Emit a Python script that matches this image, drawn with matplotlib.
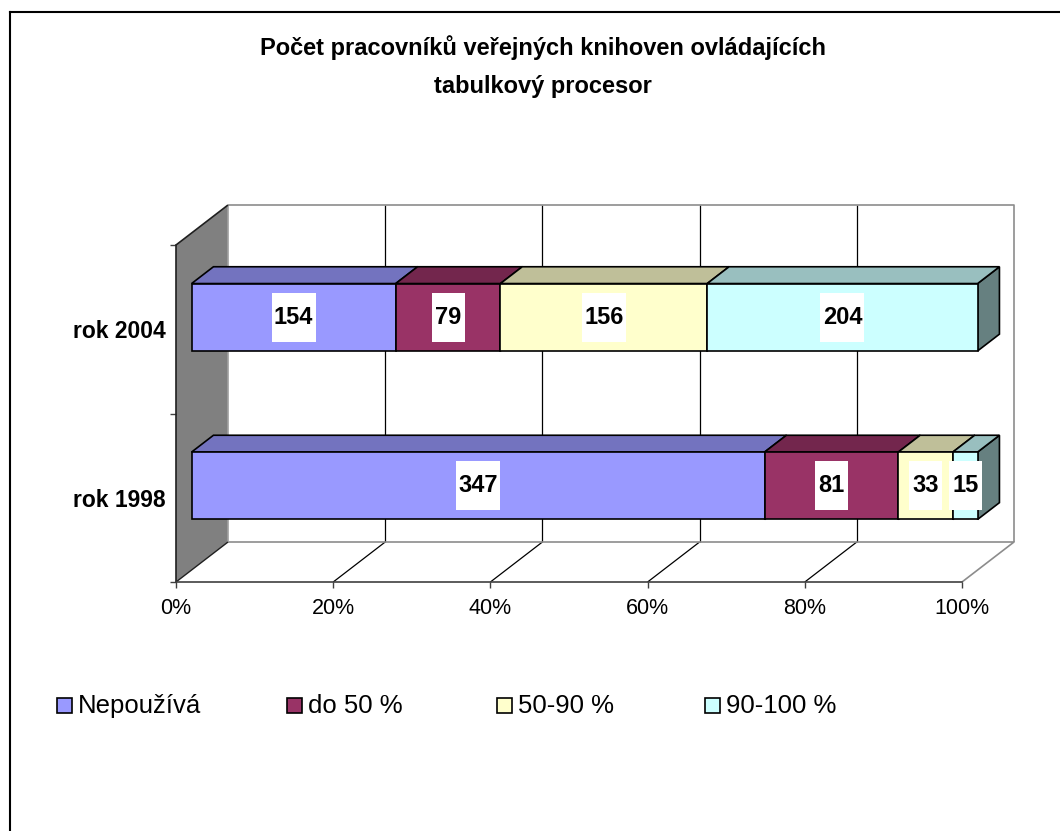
import matplotlib
matplotlib.use("Agg")
import matplotlib.pyplot as plt
import matplotlib.transforms as mtransforms
from matplotlib.patches import Polygon, Rectangle
import numpy as np

plt.rcParams['font.family'] = ['Liberation Sans', 'DejaVu Sans']

# ---- data ----
categories = ["rok 1998", "rok 2004"]
series_names = ["Nepoužívá", "do 50 %", "50-90 %", "90-100 %"]
v_nepouziva = [347, 154]
v_do50 = [81, 79]
v_50_90 = [33, 156]
v_90_100 = [15, 204]
xtick_labels = ["0%", "20%", "40%", "60%", "80%", "100%"]
title_lines = ["Počet pracovníků veřejných knihoven ovládajících", "tabulkový procesor"]

front_colors = ["#9999FF", "#993366", "#FFFFCC", "#CCFFFF"]

def shade(hexcol, f):
    c = np.array(matplotlib.colors.to_rgb(hexcol)) * f
    return tuple(c)

# ---- figure / layout ----
W, H = 1060, 831
fig = plt.figure(figsize=(W / 100, H / 100), dpi=100)
fig.patch.set_facecolor("white")

# front plane in pixels
X0, X1 = 176, 962
YB, YT = 582, 245
ax = fig.add_axes([X0 / W, (H - YB) / H, (X1 - X0) / W, (YB - YT) / H])
ax.set_xlim(0, 1)
ax.set_ylim(0, 2)
ax.set_facecolor("none")

# depth vector (pixels for full depth) -> data units
DPX, DPY = 52, 40
ddx = DPX / (X1 - X0)
ddy = DPY / ((YB - YT) / 2)

def P(x, y, d):
    return (x + d * ddx, y + d * ddy)

# ---- walls ----
ax.add_patch(Polygon([P(0, 0, 1), P(1, 0, 1), P(1, 2, 1), P(0, 2, 1)], closed=True,
                     facecolor="white", edgecolor="none", clip_on=False, zorder=1))
ax.add_patch(Polygon([P(0, 0, 0), P(1, 0, 0), P(1, 0, 1), P(0, 0, 1)], closed=True,
                     facecolor="white", edgecolor="none", clip_on=False, zorder=1))
ax.add_patch(Polygon([P(0, 0, 0), P(0, 2, 0), P(0, 2, 1), P(0, 0, 1)], closed=True,
                     facecolor="#808080", edgecolor="none", clip_on=False, zorder=1))

def line(pts, color, lw=1.0, z=2):
    xs, ys = zip(*pts)
    ax.plot(xs, ys, color=color, lw=lw, clip_on=False, zorder=z, solid_capstyle="butt")

grid_vals = [0.2, 0.4, 0.6, 0.8]
for g in grid_vals:
    line([P(g, 0, 1), P(g, 2, 1)], "black", 0.9)
    line([P(g, 0, 0), P(g, 0, 1)], "black", 0.9)
line([P(0, 2, 1), P(1, 2, 1), P(1, 0, 1)], "#8c8c8c", 1.2)
line([P(0, 0, 1), P(1, 0, 1), P(1, 0, 0)], "#8c8c8c", 1.2)
line([P(0, 0, 1), P(0, 2, 1)], "#a0a0a0", 1.2)
line([P(0, 2, 0), P(0, 2, 1)], "#202020", 1.2)
line([P(0, 0, 0), P(0, 0, 1)], "#202020", 1.0)

# ---- bars ----
series = [v_nepouziva, v_do50, v_50_90, v_90_100]
vals = np.array(series, dtype=float)
totals = vals.sum(axis=0)
fracs = vals / totals
cum = np.vstack([np.zeros(len(categories)), np.cumsum(fracs, axis=0)])

bar_h = 0.4
d0, d1 = 0.3, 0.72
ycats = np.arange(len(categories)) + 0.5

fig.canvas.draw()
for ci, yc in enumerate(ycats):
    y0, y1 = yc - bar_h / 2, yc + bar_h / 2
    for si in range(len(series)):
        xa, xb = cum[si, ci], cum[si + 1, ci]
        fc = front_colors[si]
        ax.add_patch(Polygon([P(xb, y0, d0), P(xb, y1, d0), P(xb, y1, d1), P(xb, y0, d1)],
                             closed=True, facecolor=shade(fc, 0.5), edgecolor="black",
                             lw=1.2, clip_on=False, zorder=3, joinstyle="miter"))
        ax.add_patch(Polygon([P(xa, y1, d0), P(xb, y1, d0), P(xb, y1, d1), P(xa, y1, d1)],
                             closed=True, facecolor=shade(fc, 0.75), edgecolor="black",
                             lw=1.2, clip_on=False, zorder=3, joinstyle="miter"))
    for si in range(len(series)):
        xa, xb = cum[si, ci], cum[si + 1, ci]
        fc = front_colors[si]
        ax.add_patch(Polygon([P(xa, y0, d0), P(xb, y0, d0), P(xb, y1, d0), P(xa, y1, d0)],
                             closed=True, facecolor=fc, edgecolor="black",
                             lw=1.2, clip_on=False, zorder=4, joinstyle="miter"))
    for si in range(len(series)):
        xa, xb = cum[si, ci], cum[si + 1, ci]
        cx, cy = P((xa + xb) / 2, yc, d0)
        px, py = ax.transData.transform((cx, cy))
        txt = str(int(vals[si, ci]))
        bw = 11 * len(txt) + 11
        bh = 49
        ax.add_patch(Rectangle((px - bw / 2, py - bh / 2), bw, bh,
                               transform=mtransforms.IdentityTransform(),
                               facecolor="white", edgecolor="none", zorder=5, clip_on=False))
        ax.text(cx, cy, txt, ha="center", va="center", fontsize=17, fontweight="bold",
                color="black", zorder=6, clip_on=False)

# ---- axes ----
for s in ["top", "right"]:
    ax.spines[s].set_visible(False)
ax.spines["left"].set_color("#202020")
ax.spines["left"].set_linewidth(1.2)
ax.spines["bottom"].set_color("#404040")
ax.spines["bottom"].set_linewidth(1.2)
ax.spines["left"].set_zorder(2)
ax.spines["bottom"].set_zorder(2)

ax.set_xticks(np.linspace(0, 1, len(xtick_labels)))
ax.set_xticklabels(xtick_labels, fontsize=15.5)
ax.tick_params(axis="x", direction="out", length=4.3, width=1, color="#404040", pad=7.5)

ax.set_yticks([0, 1, 2])
ax.set_yticklabels([])
ax.set_yticks(ycats, minor=True)
ax.set_yticklabels(categories, minor=True, fontsize=16.5, fontweight="bold")
ax.tick_params(axis="y", which="major", direction="out", length=4.3, width=1, color="#404040")
ax.tick_params(axis="y", which="minor", length=0, pad=7.2)

# ---- title ----
fig.text(543 / W, 1 - 55 / H, title_lines[0], ha="center", va="baseline",
         fontsize=17, fontweight="bold")
fig.text(543 / W, 1 - 93 / H, title_lines[1], ha="center", va="baseline",
         fontsize=17, fontweight="bold")

# ---- legend (manual) ----
leg_x = [57, 287, 497, 705]
for name, col, lx in zip(series_names, front_colors, leg_x):
    fig.patches.append(Rectangle((lx / W, 1 - 713 / H), 15 / W, 15 / H,
                                 transform=fig.transFigure, facecolor=col,
                                 edgecolor="black", lw=1.2))
    fig.text((lx + 21) / W, 1 - 713 / H, name, ha="left", va="baseline", fontsize=18.5)

# ---- chart border ----
fig.add_artist(plt.Line2D([10 / W, 10 / W], [0, 1 - 12 / H], transform=fig.transFigure,
                          color="black", lw=1.5))
fig.add_artist(plt.Line2D([10 / W, 1], [1 - 12 / H, 1 - 12 / H], transform=fig.transFigure,
                          color="black", lw=1.5))

fig.savefig("out.png", dpi=100, facecolor="white")
